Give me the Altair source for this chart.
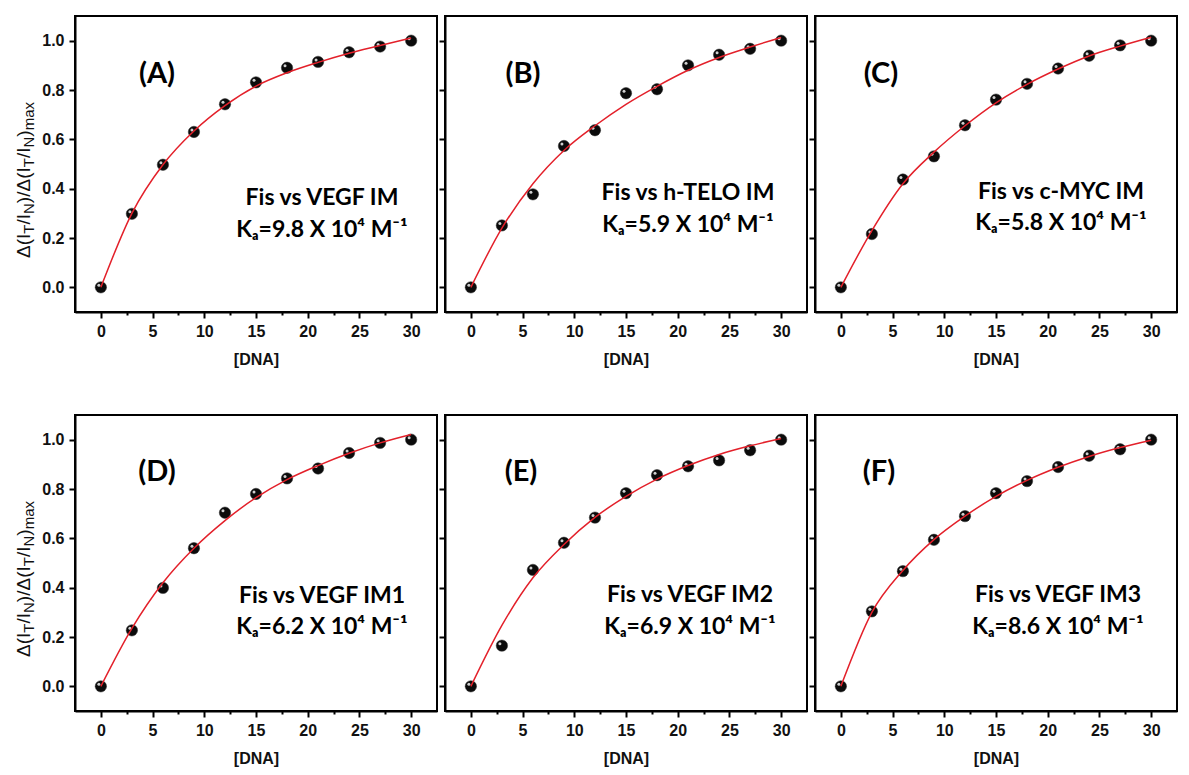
import altair as alt
import pandas as pd

# ---------------- data ----------------
DNA = [0, 3, 6, 9, 12, 15, 18, 21, 24, 27, 30]

A_pts = [0.0, 0.298, 0.497, 0.630, 0.742, 0.831, 0.890, 0.914, 0.953, 0.976, 1.0]
B_pts = [0.0, 0.251, 0.377, 0.573, 0.637, 0.787, 0.803, 0.900, 0.943, 0.967, 1.0]
C_pts = [0.0, 0.216, 0.437, 0.531, 0.657, 0.761, 0.825, 0.887, 0.939, 0.981, 1.0]
D_pts = [0.0, 0.227, 0.399, 0.560, 0.704, 0.780, 0.843, 0.883, 0.946, 0.987, 1.0]
E_pts = [0.0, 0.165, 0.472, 0.582, 0.684, 0.783, 0.856, 0.892, 0.916, 0.957, 1.0]
F_pts = [0.0, 0.304, 0.467, 0.594, 0.690, 0.783, 0.832, 0.889, 0.935, 0.961, 1.0]

A_fit = [0.0, 0.300, 0.497, 0.634, 0.737, 0.816, 0.870, 0.912, 0.949, 0.980, 1.011]
B_fit = [0.0, 0.240, 0.420, 0.555, 0.655, 0.742, 0.815, 0.880, 0.932, 0.974, 1.013]
C_fit = [0.0, 0.230, 0.420, 0.548, 0.655, 0.748, 0.823, 0.885, 0.938, 0.978, 1.014]
D_fit = [0.0, 0.235, 0.420, 0.560, 0.672, 0.765, 0.838, 0.895, 0.945, 0.987, 1.021]
E_fit = [0.0, 0.247, 0.440, 0.575, 0.685, 0.770, 0.840, 0.895, 0.940, 0.975, 1.005]
F_fit = [0.0, 0.300, 0.470, 0.595, 0.690, 0.770, 0.835, 0.888, 0.932, 0.968, 0.998]

LETTERS = ["(A)", "(B)", "(C)", "(D)", "(E)", "(F)"]
NAMES = ["Fis vs VEGF IM", "Fis vs h-TELO IM", "Fis vs c-MYC IM",
         "Fis vs VEGF IM1", "Fis vs VEGF IM2", "Fis vs VEGF IM3"]
KAS = ["9.8", "5.9", "5.8", "6.2", "6.9", "8.6"]

X_TICKS = [0, 2.5, 5, 7.5, 10, 12.5, 15, 17.5, 20, 22.5, 25, 27.5, 30]
Y_TICKS = [0.0, 0.1, 0.2, 0.3, 0.4, 0.5, 0.6, 0.7, 0.8, 0.9, 1.0]
X_DOMAIN = [-2.5, 32.5]
Y_DOMAIN = [-0.1, 1.1]

# y-axis title pieces: (text, is_subscript)
Y_TITLE_PIECES = [("Δ(I", False), ("T", True), ("/I", False), ("N", True),
                  (")/Δ(I", False), ("T", True), ("/I", False), ("N", True),
                  (")", False), ("max", True)]
X_TITLE = "[DNA]"

# ---------------- layout / style ----------------
W, H = 362, 296
LETTER_POS = [(82, 58), (78, 58), (66, 58), (82, 57), (76, 57), (64, 57)]
TEXT_X = [247, 243, 246, 247, 245, 243]
TEXT_Y = [(182, 214), (177, 209), (176, 207), (181, 212), (180, 212), (180, 212)]

ANNOT_FONT = "Lato"
TICK_FONT = "Liberation Sans"
TITLE_MAIN, TITLE_SUB = 19, 15
TITLE_X, TITLE_SUB_SHIFT, TITLE_CENTER = -45, 4, 164

# Arial / Liberation Sans advance widths (em)
ARIAL_W = {"Δ": 0.668, "(": 0.333, ")": 0.333, "/": 0.278, "I": 0.278,
           "T": 0.611, "N": 0.722, "m": 0.833, "a": 0.556, "x": 0.5}


def text_w(s, size):
    return sum(ARIAL_W.get(c, 0.55) for c in s) * size


def y_title_layers():
    sizes = [TITLE_SUB if sub else TITLE_MAIN for _, sub in Y_TITLE_PIECES]
    widths = [text_w(t, s) for (t, _), s in zip(Y_TITLE_PIECES, sizes)]
    total = sum(widths)
    pos = TITLE_CENTER + total / 2
    layers = []
    for (t, sub), s, w in zip(Y_TITLE_PIECES, sizes, widths):
        d = pd.DataFrame({"t": [t]})
        layers.append(
            alt.Chart(d).mark_text(
                font=TICK_FONT, fontSize=s, angle=270, align="left", baseline="alphabetic", color="#111"
            ).encode(
                x=alt.value(TITLE_X + (TITLE_SUB_SHIFT if sub else 0)),
                y=alt.value(pos),
                text="t:N",
            )
        )
        pos -= w
    return layers


def panel(i, pts, fit, show_y):
    df = pd.DataFrame({"dna": DNA, "val": pts, "fit": fit})
    xax = alt.Axis(
        values=X_TICKS,
        labelExpr="datum.value % 5 === 0 ? format(datum.value, 'd') : ''",
        tickSize={"condition": {"test": "datum.value % 5 === 0", "value": 6}, "value": 3},
        title=X_TITLE,
    )
    ytick = {"condition": {"test": "round(datum.value * 10) % 2 === 0", "value": 6}, "value": 3}
    if show_y:
        yax = alt.Axis(
            values=Y_TICKS,
            labelExpr="round(datum.value * 10) % 2 === 0 ? format(datum.value, '.1f') : ''",
            tickSize=ytick,
            title="",
        )
    else:
        yax = alt.Axis(values=Y_TICKS, labels=False, tickSize=ytick, title="")
    x = alt.X("dna:Q", scale=alt.Scale(domain=X_DOMAIN, nice=False, zero=False), axis=xax)
    y = alt.Y("val:Q", scale=alt.Scale(domain=Y_DOMAIN, nice=False, zero=False), axis=yax)
    yfit = alt.Y("fit:Q")

    base = alt.Chart(df)
    dots = base.mark_circle(size=130, color="#0b0b0b", opacity=1, stroke="#333", strokeWidth=0.5).encode(x=x, y=y)
    shine = base.mark_circle(size=9, color="#d0d0d0", opacity=1, xOffset=-2, yOffset=-2).encode(x=x, y=y)
    line = base.mark_line(color="#e3202a", strokeWidth=1.5, interpolate="monotone").encode(x=x, y=yfit)

    lx, ly = LETTER_POS[i]
    letter = alt.Chart(pd.DataFrame({"t": [LETTERS[i]]})).mark_text(
        font=ANNOT_FONT, fontSize=29, fontWeight="bold", color="black", align="center", baseline="middle"
    ).encode(x=alt.value(lx), y=alt.value(ly), text="t:N")

    name = alt.Chart(pd.DataFrame({"t": [NAMES[i]]})).mark_text(
        font=ANNOT_FONT, fontSize=23, fontWeight="bold", color="black", align="center", baseline="middle"
    ).encode(x=alt.value(TEXT_X[i]), y=alt.value(TEXT_Y[i][0]), text="t:N")

    ka = alt.Chart(pd.DataFrame({"t": ["Kₐ=" + KAS[i] + " X 10⁴ M⁻¹"]})).mark_text(
        font=ANNOT_FONT, fontSize=23, fontWeight="bold", color="black", align="center", baseline="middle"
    ).encode(x=alt.value(TEXT_X[i]), y=alt.value(TEXT_Y[i][1]), text="t:N")

    layers = [dots, shine, line, letter, name, ka]
    if show_y:
        layers += y_title_layers()
    return alt.layer(*layers).properties(width=W, height=H)


row1 = alt.hconcat(
    panel(0, A_pts, A_fit, True), panel(1, B_pts, B_fit, False), panel(2, C_pts, C_fit, False),
    spacing=8, bounds="flush",
)
row2 = alt.hconcat(
    panel(3, D_pts, D_fit, True), panel(4, E_pts, E_fit, False), panel(5, F_pts, F_fit, False),
    spacing=8, bounds="flush",
)

chart = alt.vconcat(row1, row2, spacing=46).properties(
    padding={"left": 5, "top": 7, "right": 0, "bottom": 0}
).configure_view(
    stroke="black", strokeWidth=2
).configure_axis(
    grid=False,
    domainColor="black", domainWidth=2,
    tickColor="black", tickWidth=2,
    labelFont=TICK_FONT, labelFontSize=16, labelFontWeight="bold", labelColor="#111",
    labelPadding=5,
    titleFont=TICK_FONT, titleColor="#111",
).configure_axisX(
    titleFontSize=16, titleFontWeight="bold", titlePadding=12,
)

chart.save("out.html", embed_options={"renderer": "svg", "actions": False})
